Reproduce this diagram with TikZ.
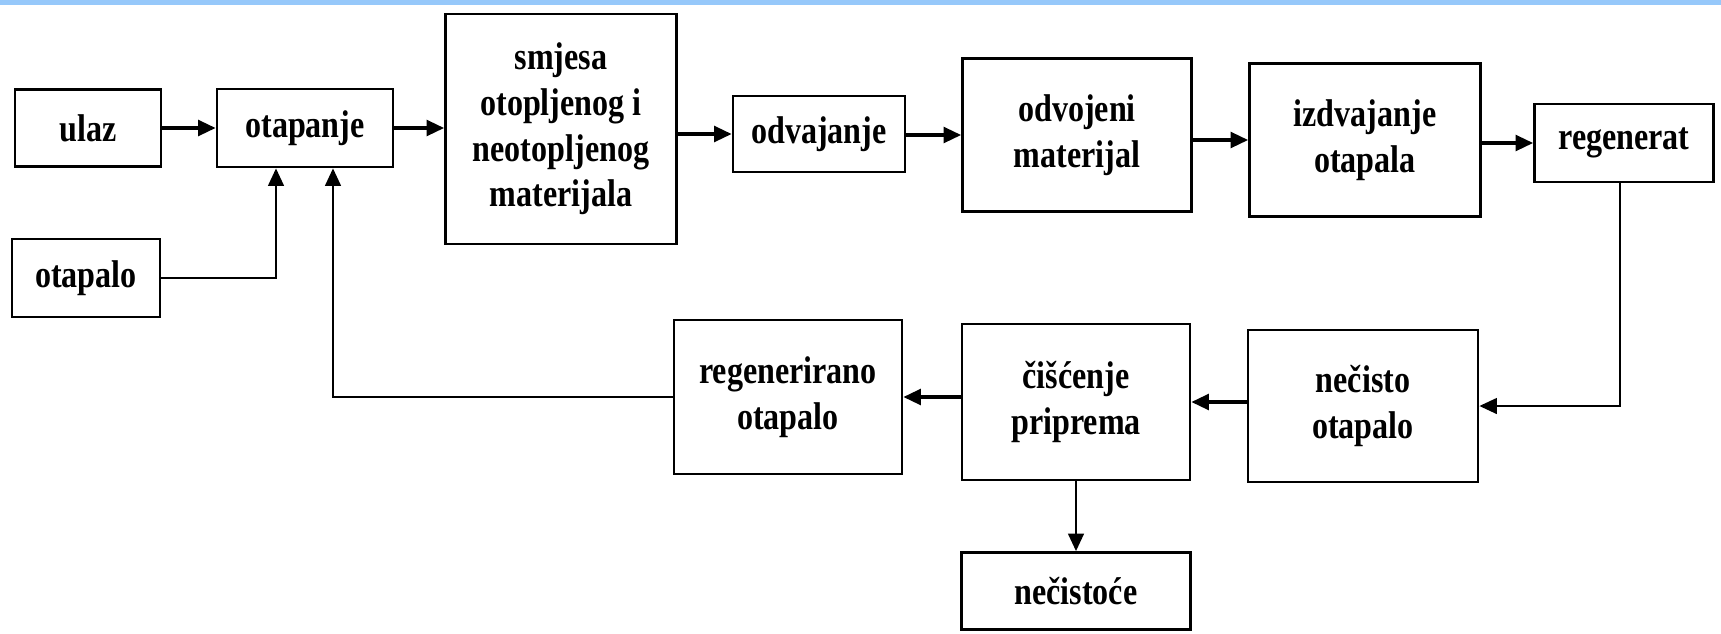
\documentclass[tikz,border=0pt]{standalone}
\usepackage{fontspec}
\setmainfont{Liberation Serif}[FakeStretch=0.83]
\usepackage{xcolor}
\usepackage{tikz}
\usetikzlibrary{positioning,calc,arrows.meta}
\definecolor{topbar}{RGB}{150,200,250}

\tikzset{
    box/.style={draw, line width=1.6pt, align=center, inner sep=0pt,
        font=\fontsize{22}{26}\selectfont\bfseries},
    arr/.style={line width=1.8pt, -{Triangle[length=10pt,width=9pt]}},
    thinarr/.style={arr, line width=1.2pt}
}

\begin{document}
\begin{tikzpicture}[x=0.02cm, y=-0.02cm]
    \useasboundingbox (0,0) rectangle (1721,633);
    \fill[topbar] (0,0) rectangle (1721,5);

    % top row
    \node[box, minimum width=2.92cm, minimum height=1.54cm] (ulaz) at (88,128) {ulaz};
    \node[box, minimum width=3.52cm, minimum height=1.56cm] (otapanje) at (305,128) {otapanje};
    \node[box, minimum width=4.62cm, minimum height=4.6cm] (smjesa) at (561,129) {smjesa\\otopljenog i\\neotopljenog\\materijala};
    \node[box, minimum width=3.44cm, minimum height=1.52cm] (odvajanje) at (819,134) {odvajanje};
    \node[box, minimum width=4.58cm, minimum height=3.06cm] (odvojeni) at (1077,135) {odvojeni\\materijal};
    \node[box, minimum width=4.62cm, minimum height=3.06cm] (izdvajanje) at (1365,140) {izdvajanje\\otapala};
    \node[box, minimum width=3.58cm, minimum height=1.56cm] (regenerat) at (1624,143) {regenerat};
    \node[box, minimum width=2.96cm, minimum height=1.56cm] (otapalo) at (86,278) {otapalo};

    % bottom row
    \node[box, minimum width=4.6cm, minimum height=3.04cm] (necisto) at (1363,406) {nečisto\\otapalo};
    \node[box, minimum width=4.56cm, minimum height=3.12cm] (ciscenje) at (1076,402) {čišćenje\\priprema};
    \node[box, minimum width=4.56cm, minimum height=3.08cm] (regotapalo) at (788,397) {regenerirano\\otapalo};
    \node[box, minimum width=4.58cm, minimum height=1.54cm] (necistoce) at (1076,591) {nečistoće};

    % connectors
    \draw[arr] (ulaz) -- (otapanje);
    \draw[arr] (otapanje) -- (otapanje -| smjesa.west);
    \draw[arr] (smjesa.east |- odvajanje) -- (odvajanje);
    \draw[arr] (odvajanje.east |- odvojeni) -- (odvojeni);
    \draw[arr] (odvojeni.east |- izdvajanje) -- (izdvajanje);
    \draw[arr] (izdvajanje.east |- regenerat) -- (regenerat);
    \draw[thinarr] (otapalo) -| ([xshift=-0.58cm]otapanje.south);
    \draw[thinarr] ([xshift=-0.08cm]regenerat.south) |- (necisto);
    \draw[arr] (necisto.west |- ciscenje) -- (ciscenje);
    \draw[arr] (ciscenje.west |- regotapalo) -- (regotapalo);
    \draw[thinarr] (ciscenje) -- (necistoce);
    \draw[thinarr] (regotapalo) -| ([xshift=0.56cm]otapanje.south);
\end{tikzpicture}
\end{document}
